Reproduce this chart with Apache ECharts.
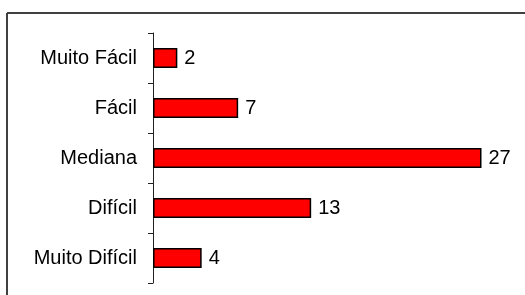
<!DOCTYPE html>
<html>
<head>
<meta charset="utf-8">
<script src="https://cdn.jsdelivr.net/npm/echarts@6/dist/echarts.min.js"></script>
<style>
  html, body { margin: 0; padding: 0; background: #fff; }
  #chart { width: 525px; height: 295px; }
</style>
</head>
<body>
<div id="chart"></div>
<script>
var categories = ["Muito Fácil", "Fácil", "Mediana", "Difícil", "Muito Difícil"];
var counts = [2, 7, 27, 13, 4];

var myChart = echarts.init(document.getElementById("chart"));

var option = {
  animation: false,
  backgroundColor: "#fff",
  textStyle: { fontFamily: "Liberation Sans, Arial, sans-serif" },
  grid: { left: 153, top: 33, width: 365, height: 250 },
  graphic: [
    {
      type: "line",
      shape: { x1: 7, y1: 13, x2: 525, y2: 13 },
      style: { stroke: "#404040", lineWidth: 2 },
    },
    {
      type: "line",
      shape: { x1: 7, y1: 13, x2: 7, y2: 295 },
      style: { stroke: "#404040", lineWidth: 2 },
    },
  ],
  xAxis: {
    type: "value",
    min: 0,
    max: 30,
    show: false,
  },
  yAxis: {
    type: "category",
    data: categories,
    inverse: true,
    axisLine: { show: true, lineStyle: { color: "#222", width: 1 } },
    axisTick: { show: true, inside: false, length: 5, lineStyle: { color: "#222" } },
    axisLabel: { color: "#000", fontSize: 20, margin: 16 },
    splitLine: { show: false },
  },
  series: [
    {
      type: "bar",
      data: counts,
      barWidth: 20,
      itemStyle: { color: "#ff0000", borderColor: "#000", borderWidth: 1.5 },
      label: {
        show: true,
        position: "right",
        distance: 7,
        color: "#000",
        fontSize: 20,
      },
    },
  ],
};

myChart.setOption(option);
</script>
</body>
</html>
